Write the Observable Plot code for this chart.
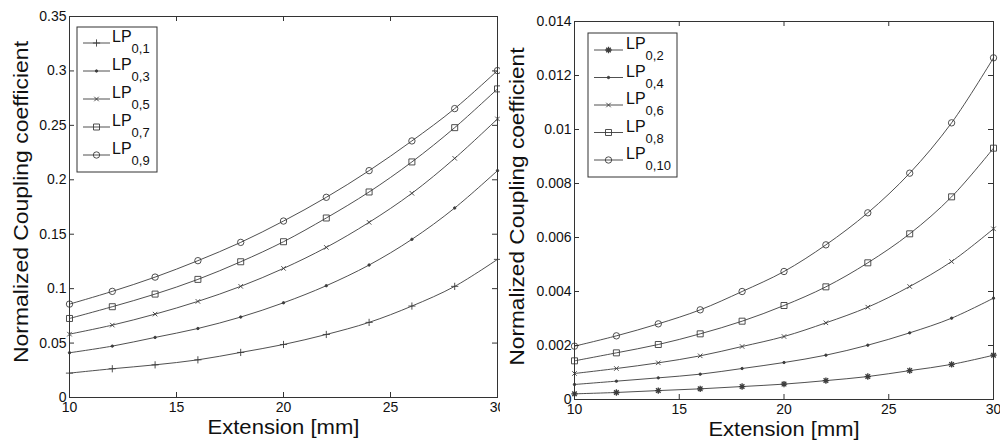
<!DOCTYPE html>
<html>
<head>
<meta charset="utf-8">
<script src="https://cdn.jsdelivr.net/npm/d3@7"></script>
<script src="https://cdn.jsdelivr.net/npm/@observablehq/plot@0.6"></script>
<style>
  html, body { margin: 0; padding: 0; background: #fff; }
  #charts { display: flex; width: 1000px; height: 446px; }
  #charts > div { width: 500px; height: 446px; }
  svg { font-family: "Liberation Sans", Arial, sans-serif; }
</style>
</head>
<body>
<div id="charts"><div id="odd"></div><div id="even"></div></div>
<script>
// Fiber extension in mm (shared x values of every series)
const extension = [10, 12, 14, 16, 18, 20, 22, 24, 26, 28, 30];

// Odd-order modes, normalized coupling coefficient
const lp01 = [0.0224, 0.0264, 0.0300, 0.0346, 0.0414, 0.0487, 0.0579, 0.0690, 0.0840, 0.1021, 0.1269];
const lp03 = [0.0411, 0.0472, 0.0552, 0.0634, 0.0739, 0.0870, 0.1027, 0.1217, 0.1453, 0.1741, 0.2084];
const lp05 = [0.0582, 0.0665, 0.0766, 0.0883, 0.1021, 0.1186, 0.1379, 0.1609, 0.1876, 0.2197, 0.2559];
const lp07 = [0.0726, 0.0834, 0.0950, 0.1085, 0.1247, 0.1431, 0.1649, 0.1888, 0.2164, 0.2479, 0.2835];
const lp09 = [0.0858, 0.0975, 0.1106, 0.1257, 0.1425, 0.1621, 0.1839, 0.2084, 0.2357, 0.2654, 0.3003];

// Even-order modes, normalized coupling coefficient
const lp02  = [0.00021, 0.00026, 0.00033, 0.000395, 0.00048, 0.00057, 0.00070, 0.00085, 0.00107, 0.00130, 0.00164];
const lp04  = [0.000556, 0.000679, 0.000802, 0.000938, 0.001148, 0.001370, 0.001642, 0.002012, 0.002469, 0.003012, 0.003753];
const lp06  = [0.000963, 0.001148, 0.001358, 0.001617, 0.001963, 0.002333, 0.002840, 0.003420, 0.004185, 0.005111, 0.006321];
const lp08  = [0.001432, 0.001728, 0.002037, 0.002432, 0.002901, 0.003481, 0.004173, 0.005062, 0.006136, 0.007506, 0.009309];
const lp010 = [0.001975, 0.002358, 0.002802, 0.003321, 0.004000, 0.004741, 0.005728, 0.006914, 0.008383, 0.010247, 0.012654];

// Mode subscripts shown in the legends
const oddModes  = ["0,1", "0,3", "0,5", "0,7", "0,9"];
const evenModes = ["0,2", "0,4", "0,6", "0,8", "0,10"];

// Tick values
const xTicks = [10, 15, 20, 25, 30];
const yTicksOdd  = [0, 0.05, 0.1, 0.15, 0.2, 0.25, 0.3, 0.35];
const yTicksEven = [0, 0.002, 0.004, 0.006, 0.008, 0.01, 0.012, 0.014];

const xLabel = "Extension [mm]";
const yLabel = "Normalized Coupling coefficient";

// MATLAB-style marker shapes as d3 symbol types
const rOf = size => Math.sqrt(size / Math.PI);
const symPlus = { draw(c, s) { const r = rOf(s); c.moveTo(-r, 0); c.lineTo(r, 0); c.moveTo(0, -r); c.lineTo(0, r); } };
const symTimes = { draw(c, s) { const r = rOf(s) * 0.75; c.moveTo(-r, -r); c.lineTo(r, r); c.moveTo(-r, r); c.lineTo(r, -r); } };
const symStar = { draw(c, s) { const r = rOf(s), q = r * 0.72;
  c.moveTo(-r, 0); c.lineTo(r, 0); c.moveTo(0, -r); c.lineTo(0, r);
  c.moveTo(-q, -q); c.lineTo(q, q); c.moveTo(-q, q); c.lineTo(q, -q); } };
const symSquare = { draw(c, s) { const r = rOf(s); c.rect(-r, -r, 2 * r, 2 * r); } };
const symCircle = { draw(c, s) { const r = rOf(s); c.moveTo(r, 0); c.arc(0, 0, r, 0, 2 * Math.PI); } };
const symPoint = { draw(c, s) { const r = rOf(s); c.moveTo(r, 0); c.arc(0, 0, r, 0, 2 * Math.PI); } };

const ink = "#3c3c3c";
const markerStyles = [
  { symbol: symPlus,   r: 3.6, filled: false },
  { symbol: symPoint,  r: 1.2, filled: true },
  { symbol: symTimes,  r: 3.0, filled: false },
  { symbol: symSquare, r: 3.0, filled: false },
  { symbol: symCircle, r: 3.2, filled: false }
];
const evenMarkerStyles = [
  { symbol: symStar,   r: 3.2, filled: false, width: 1.3 },
  ...markerStyles.slice(1)
];

function chart({ el, series, modes, styles, yDomain, yTicks, yFormat, margins, legend, yTitleDx, yTitleDy, xTitleLen, yTitleLen }) {
  const width = 500, height = 446;
  const { top, right, bottom, left } = margins;
  const W = width - left - right, H = height - top - bottom;
  const tickLen = 5;

  const marks = [];
  series.forEach((values, i) => {
    const rows = extension.map((x, j) => ({ x, y: values[j] }));
    const st = styles[i];
    marks.push(Plot.line(rows, { x: "x", y: "y", stroke: ink, strokeWidth: 0.9, curve: "catmull-rom" }));
    marks.push(Plot.dot(rows, { x: "x", y: "y", symbol: st.symbol, r: st.r,
      stroke: ink, strokeWidth: st.width ?? 0.9, fill: st.filled ? ink : "none" }));
  });

  // inward ticks on all four sides
  marks.push(Plot.tickX(xTicks, { x: d => d, insetTop: H - tickLen, stroke: "#333" }));
  marks.push(Plot.tickX(xTicks, { x: d => d, insetBottom: H - tickLen, stroke: "#333" }));
  marks.push(Plot.tickY(yTicks, { y: d => d, insetRight: W - tickLen, stroke: "#333" }));
  marks.push(Plot.tickY(yTicks, { y: d => d, insetLeft: W - tickLen, stroke: "#333" }));
  marks.push(Plot.frame({ stroke: "#333", strokeWidth: 1 }));

  marks.push(Plot.axisX({ ticks: xTicks, tickSize: 0, tickPadding: 5, label: null, fontSize: 14, tickFormat: d => String(d) }));
  marks.push(Plot.axisY({ ticks: yTicks, tickSize: 0, tickPadding: 3, label: null, fontSize: 14, tickFormat: yFormat }));

  marks.push(Plot.text([xLabel], { text: d => d, frameAnchor: "bottom", textAnchor: "middle", dy: 30, lineAnchor: "middle", fontSize: 21, fill: "#111" }));
  marks.push(Plot.text([yLabel], { text: d => d, frameAnchor: "left", textAnchor: "middle", rotate: -90, dx: yTitleDx, dy: yTitleDy, lineAnchor: "middle", fontSize: 21, fill: "#111" }));

  const svg = Plot.plot({
    width, height,
    marginTop: top, marginRight: right, marginBottom: bottom, marginLeft: left,
    x: { domain: [10, 30] },
    y: { domain: yDomain },
    style: { fontFamily: "'Liberation Sans', Arial, sans-serif", color: "#111", background: "#fff", overflow: "visible" },
    marks
  });

  // the axis titles are set in a slightly wide face
  d3.select(svg).selectAll("text")
    .filter(function () { return this.textContent === xLabel; })
    .attr("textLength", xTitleLen).attr("lengthAdjust", "spacingAndGlyphs");
  d3.select(svg).selectAll("text")
    .filter(function () { return this.textContent === yLabel; })
    .attr("textLength", yTitleLen).attr("lengthAdjust", "spacingAndGlyphs");

  // legend box drawn inside the plotting area
  const g = d3.select(svg).append("g").attr("class", "legend").attr("text-anchor", "start");
  g.append("rect")
    .attr("x", legend.x).attr("y", legend.y).attr("width", legend.w).attr("height", legend.h)
    .attr("fill", "#fff").attr("stroke", "#333").attr("stroke-width", 1);
  modes.forEach((m, i) => {
    const y = legend.y0 + legend.step * i;
    const st = styles[i];
    g.append("line")
      .attr("x1", legend.lx1).attr("x2", legend.lx2).attr("y1", y).attr("y2", y)
      .attr("stroke", ink).attr("stroke-width", 0.9);
    g.append("path")
      .attr("d", d3.symbol(st.symbol, Math.PI * st.r * st.r)())
      .attr("transform", `translate(${(legend.lx1 + legend.lx2) / 2},${y})`)
      .attr("stroke", ink).attr("stroke-width", st.width ?? 0.9)
      .attr("fill", st.filled ? ink : "none");
    const t = g.append("text")
      .attr("x", legend.tx).attr("y", y - 1)
      .attr("text-anchor", "start")
      .attr("font-size", 16).attr("fill", "#111")
      .text("LP");
    t.append("tspan").attr("dy", 11).attr("font-size", 13).text(m);
  });

  document.getElementById(el).appendChild(svg);
}

chart({
  el: "odd",
  series: [lp01, lp03, lp05, lp07, lp09],
  modes: oddModes,
  styles: markerStyles,
  yDomain: [0, 0.35],
  yTicks: yTicksOdd,
  yFormat: d => String(+d.toFixed(3)),
  margins: { top: 16, right: 3, bottom: 49, left: 69 },
  legend: { x: 77, y: 27, w: 80, h: 145, y0: 43, step: 28, lx1: 83, lx2: 110, tx: 112 },
  yTitleDx: -48, yTitleDy: -5, xTitleLen: 152, yTitleLen: 322
});

chart({
  el: "even",
  series: [lp02, lp04, lp06, lp08, lp010],
  modes: evenModes,
  styles: evenMarkerStyles,
  yDomain: [0, 0.014],
  yTicks: yTicksEven,
  yFormat: d => String(+d.toFixed(4)),
  margins: { top: 21, right: 7, bottom: 47, left: 74 },
  legend: { x: 88, y: 33, w: 89, h: 144, y0: 50, step: 27.5, lx1: 94, lx2: 123, tx: 126 },
  yTitleDx: -57, yTitleDy: -4, xTitleLen: 151, yTitleLen: 318
});
</script>
</body>
</html>
